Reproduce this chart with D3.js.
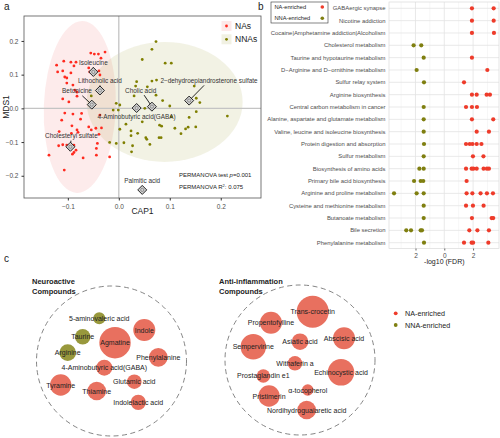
<!DOCTYPE html>
<html><head><meta charset="utf-8">
<script src="https://cdn.jsdelivr.net/npm/d3@7"></script>
<style>body{margin:0;background:#fff} text{font-family:'Liberation Sans',Arial,sans-serif}</style>
</head><body><svg id="c" width="500" height="438"></svg>
<script>
// ---------- Panel a data ----------
const naPoints = [[-0.055,0.164],[-0.048,0.161],[-0.040,0.161],[-0.027,0.167],[-0.035,0.149],[-0.122,0.128],[-0.108,0.140],[-0.094,0.137],[-0.084,0.137],[-0.120,0.108],[-0.110,0.111],[-0.106,0.093],[-0.102,0.090],[-0.094,0.105],[-0.088,0.126],[-0.059,0.120],[-0.057,0.108],[-0.039,0.111],[-0.037,0.099],[-0.102,0.075],[-0.090,0.069],[-0.086,0.054],[-0.082,0.048],[-0.110,0.028],[-0.098,0.019],[-0.082,0.036],[-0.106,-0.014],[-0.090,-0.017],[-0.112,-0.035],[-0.075,-0.032],[-0.059,-0.055],[-0.037,-0.020],[-0.082,-0.064],[-0.073,-0.015],[-0.092,-0.052],[-0.117,-0.069],[-0.093,-0.074],[-0.080,-0.071],[-0.054,-0.064],[-0.039,-0.077],[-0.045,-0.059],[-0.034,-0.058],[-0.110,-0.108],[-0.102,-0.109],[-0.118,-0.111],[-0.088,-0.109],[-0.084,-0.124],[-0.088,-0.131],[-0.091,-0.136],[-0.137,-0.139],[-0.070,-0.147],[-0.044,-0.139],[-0.044,-0.119],[-0.042,-0.104],[-0.018,-0.144],[-0.107,-0.183]];
const nnaPoints = [[0.073,0.198],[0.065,0.175],[0.046,0.145],[0.091,0.134],[0.103,0.134],[0.035,0.079],[0.065,0.081],[0.074,0.084],[0.033,0.066],[0.056,0.064],[0.086,0.023],[0.100,0.007],[0.148,0.066],[0.152,0.030],[0.152,-0.010],[0.138,-0.027],[0.213,-0.023],[0.030,0.037],[0.002,0.010],[0.051,0.000],[0.103,-0.025],[0.080,-0.050],[0.136,-0.056],[0.131,-0.061],[0.151,-0.055],[0.122,-0.075],[0.024,-0.067],[0.024,-0.081],[0.037,-0.074],[0.053,-0.087],[0.055,-0.092],[0.079,-0.087],[0.083,-0.087],[0.061,-0.107],[0.010,-0.102],[0.027,-0.111],[0.025,-0.129],[0.110,-0.059],[0.084,-0.053],[0.046,-0.040],[-0.001,-0.005],[-0.005,0.015],[0.002,-0.062],[0.014,-0.047],[-0.054,0.037],[-0.011,-0.005],[-0.018,-0.101],[-0.005,-0.104],[0.159,0.017],[0.073,0.039]];
const markerNames = ["Isoleucine","Lithocholic acid","Betonicine","Cholic acid","4-Aminobutyric acid(GABA)","2−dehydroepiandrosterone sulfate","Cholesteryl sulfate","Palmitic acid"];
const markerX = [-0.050,-0.037,-0.053,0.065,0.035,0.138,-0.095,0.046];
const markerY = [0.108,0.053,0.011,0.005,0.001,0.023,-0.114,-0.242];
const labelX = [-0.050,-0.037,-0.082,0.043,0.035,0.177,-0.093,0.046];
const labelY = [0.137,0.083,0.052,0.054,-0.025,0.083,-0.081,-0.215];
const ellipseGroups = ["NAs","NNAs"];
const ellipseCx = [-0.0765,0.090];
const ellipseCy = [0.004,0.019];
const ellipseRx = [0.0706,0.153];
const ellipseRy = [0.255,0.178];
const ellipseAngle = [2,0];
const xTicksA = [-0.1,0.0,0.1,0.2];
const yTicksA = [-0.2,-0.1,0.0,0.1,0.2];
const permanovaP = "0.001";
const permanovaR2 = "0.075";

// ---------- Panel b data ----------
const pathways = ["GABAergic synapse","Nicotine addiction","Cocaine|Amphetamine addiction|Alcoholism","Cholesterol metabolism","Taurine and hypotaurine metabolism","D−Arginine and D−ornithine metabolism","Sulfur relay system","Arginine biosynthesis","Central carbon metabolism in cancer","Alanine, aspartate and glutamate metabolism","Valine, leucine and isoleucine biosynthesis","Protein digestion and absorption","Sulfur metabolism","Biosynthesis of amino acids","Primary bile acid biosynthesis","Arginine and proline metabolism","Cysteine and methionine metabolism","Butanoate metabolism","Bile secretion","Phenylalanine metabolism"];
const naEnriched = [[1.92,3.43],[1.92,3.43],[1.92,3.45],[],[1.92],[2.99],[1.37],[1.92,2.25,2.94,3.17],[1.51,1.92,2.27],[1.92,3.40],[2.25,3.10],[1.51,1.77,1.96,2.25,2.58],[1.99,2.72],[1.51,1.90,2.02,2.25,2.73,2.96,3.10],[1.55],[1.55,1.95,2.52,2.96,3.38],[1.51,1.99,2.73],[1.92,3.29,3.40],[1.74,2.30,3.10],[1.37,1.90,2.00,3.06]];
const nnaEnriched = [[],[],[],[2.13,1.60],[1.43],[1.92],[1.41],[],[1.43],[1.43],[1.43],[1.41],[1.43],[1.73,1.43],[2.10,1.64,1.46],[3.49,1.92,1.43],[1.43],[1.43],[2.64,2.31,1.64,1.55],[1.41]];
const xTicksB = [-2,0,2];
const xMinorB = [-3,-1,1,3];

// ---------- Panel c data ----------
const groupTitles = [["Neuroactive","Compounds"],["Anti-inflammation","Compounds"]];
const compounds = ["5-aminovaleric acid","Taurine","Arginine","Agmatine","Indole","Phenylalanine","4-Aminobutyric acid(GABA)","Tyramine","Thiamine","Glutamic acid","Indolelactic acid",
  "Trans-crocetin","Propentofylline","Sempervirine","Asiatic acid","Abscisic acid","Withaferin a","Echinocystic acid","Prostaglandin e1","Pristimerin","α-tocopherol","Nordihydroguaiaretic acid"];
const compoundGroup = [0,0,0,0,0,0,0,0,0,0,0,1,1,1,1,1,1,1,1,1,1,1];
const compoundEnriched = ["NNA","NNA","NNA","NA","NA","NA","NA","NA","NA","NA","NA","NA","NA","NA","NA","NA","NA","NA","NA","NA","NA","NA"];
const compoundSize = [3.7,6.0,7.0,25,12.3,8.8,6.5,11.6,8.8,5.4,6.0,26,12.3,16.4,7.0,12.3,5.4,17.9,4.6,11.6,3.3,8.8];
const packX = [-0.163,-0.384,-0.584,0.047,0.437,0.624,-0.096,-0.677,-0.197,0.304,0.357,0.169,-0.387,-0.623,0.0,0.587,-0.067,0.547,-0.489,-0.413,0.103,0.089];
const packY = [-0.569,-0.324,-0.111,-0.244,-0.413,-0.049,0.089,0.32,0.4,0.276,0.551,-0.644,-0.497,-0.177,-0.244,-0.289,0.044,0.164,0.213,0.48,0.4,0.667];
const legendC = ["NA-enriched","NNA-enriched"];

// ---------- Drawing ----------
const svg = d3.select("#c");
const FONT = "'Liberation Sans',Arial,sans-serif";
const RED_A = "#ff2a1f", GREEN_A = "#7f7f00";
const RED_B = "#ee3b2a", GREEN_B = "#7f7f10";
const RED_C = "#e8705f", GREEN_C = "#98983c";

// Panel a
const xA = d3.scaleLinear().domain([-0.186,0.279]).range([24,261]);
const yA = d3.scaleLinear().domain([-0.266,0.274]).range([198,16]);
const gA = svg.append("g");
gA.append("clipPath").attr("id","clipA").append("rect").attr("x",24).attr("y",16).attr("width",237).attr("height",182);
const ellFill = ["rgba(240,100,100,0.13)","rgba(128,128,0,0.105)"];
gA.append("g").attr("clip-path","url(#clipA)").selectAll("ellipse").data(ellipseGroups).join("ellipse")
  .attr("cx",(d,i)=>xA(ellipseCx[i])).attr("cy",(d,i)=>yA(ellipseCy[i]))
  .attr("rx",(d,i)=>xA(ellipseCx[i]+ellipseRx[i])-xA(ellipseCx[i]))
  .attr("ry",(d,i)=>yA(ellipseCy[i])-yA(ellipseCy[i]+ellipseRy[i]))
  .attr("transform",(d,i)=>`rotate(${ellipseAngle[i]},${xA(ellipseCx[i])},${yA(ellipseCy[i])})`)
  .attr("fill",(d,i)=>ellFill[i]);
// zero lines
gA.append("line").attr("x1",xA(0)).attr("x2",xA(0)).attr("y1",16).attr("y2",198).attr("stroke","#c4c4c4").attr("stroke-width",1.3);
gA.append("line").attr("x1",24).attr("x2",261).attr("y1",yA(0)).attr("y2",yA(0)).attr("stroke","#c4c4c4").attr("stroke-width",1.3);
// points
gA.selectAll("circle.na").data(naPoints).join("circle").attr("class","na")
  .attr("cx",d=>xA(d[0])).attr("cy",d=>yA(d[1])).attr("r",1.4).attr("fill",RED_A);
gA.selectAll("circle.nna").data(nnaPoints).join("circle").attr("class","nna")
  .attr("cx",d=>xA(d[0])).attr("cy",d=>yA(d[1])).attr("r",1.4).attr("fill",GREEN_A);
// label lines
markerNames.forEach((n,i)=>{
  const lx = xA(labelX[i]), ly = yA(labelY[i]);
  const mx = xA(markerX[i]), my = yA(markerY[i]);
  const dy = my-ly, dx = mx-lx;
  const t = Math.min(1, 5/Math.abs(dy));
  gA.append("line").attr("x1",lx+dx*t).attr("y1",ly+dy*t).attr("x2",mx).attr("y2",my)
    .attr("stroke","#111").attr("stroke-width",0.9);
});
// markers
markerNames.forEach((n,i)=>{
  const mx = xA(markerX[i]), my = yA(markerY[i]);
  gA.append("path").attr("d",`M${mx},${my-4.5}L${mx+4.5},${my}L${mx},${my+4.5}L${mx-4.5},${my}Z`)
    .attr("fill","#d0d0d0").attr("stroke","#111").attr("stroke-width",0.9);
  gA.append("circle").attr("cx",mx).attr("cy",my).attr("r",1.6).attr("fill","none").attr("stroke","#555").attr("stroke-width",0.5);
});
// label texts
markerNames.forEach((n,i)=>{
  gA.append("text").attr("x",xA(labelX[i])).attr("y",yA(labelY[i])).attr("text-anchor","middle")
    .attr("dominant-baseline","central").attr("font-size",6.4).attr("fill","#333").text(n);
});
// box
gA.append("rect").attr("x",24).attr("y",16).attr("width",237).attr("height",182).attr("fill","none").attr("stroke","#555").attr("stroke-width",0.8);
// axes
const axL = gA.append("g").attr("transform","translate(24,0)").call(d3.axisLeft(yA).tickValues(yTicksA).tickSize(2.5).tickFormat(d3.format(".1f")));
const axB = gA.append("g").attr("transform","translate(0,198)").call(d3.axisBottom(xA).tickValues(xTicksA).tickSize(2.5).tickFormat(d3.format(".1f")));
[axL,axB].forEach(ax=>{ax.select(".domain").remove(); ax.selectAll("line").attr("stroke","#333");
  ax.selectAll("text").attr("font-size",6.5).attr("fill","#4d4d4d").attr("font-family",FONT);});
axB.selectAll("text").attr("dy","0.9em");
gA.append("text").attr("x",142.5).attr("y",214).attr("text-anchor","middle").attr("font-size",8.5).attr("fill","#222").text("CAP1");
gA.append("text").attr("transform","translate(9,107) rotate(-90)").attr("text-anchor","middle").attr("font-size",8.5).attr("fill","#222").text("MDS1");
// legend a
const legKeyFill = ["#fde9e9","#f1f1e3"];
[RED_A,GREEN_A].forEach((c,i)=>{
  gA.append("rect").attr("x",221.5).attr("y",21+i*13.3).attr("width",10).attr("height",10).attr("fill",legKeyFill[i]);
  gA.append("circle").attr("cx",226.5).attr("cy",26+i*13.3).attr("r",1.4).attr("fill",c);
  gA.append("text").attr("x",235).attr("y",26+i*13.3).attr("dominant-baseline","central").attr("font-size",8.5).attr("fill","#222").text(ellipseGroups[i]);
});
const t1 = gA.append("text").attr("x",179).attr("y",177).attr("font-size",6).attr("fill","#222");
t1.append("tspan").text("PERMANOVA test ");
t1.append("tspan").attr("font-style","italic").text("p");
t1.append("tspan").text("="+permanovaP);
const t2 = gA.append("text").attr("x",179).attr("y",189).attr("font-size",6).attr("fill","#222");
t2.append("tspan").text("PERMANOVA R");
t2.append("tspan").attr("font-size",4).attr("dy",-2.5).text("2");
t2.append("tspan").attr("dy",2.5).text(": "+permanovaR2);

// Panel b
const xB = d3.scaleLinear().domain([-3.84,3.80]).range([389,499]);
const yB = d3.scalePoint().domain(pathways).range([8.3,242.7]);
const gB = svg.append("g");
gB.selectAll("line.minor").data(xMinorB).join("line").attr("class","minor")
  .attr("x1",d=>xB(d)).attr("x2",d=>xB(d)).attr("y1",2).attr("y2",248.5).attr("stroke","#f0f0f0").attr("stroke-width",0.6);
gB.selectAll("line.major").data(xTicksB).join("line").attr("class","major")
  .attr("x1",d=>xB(d)).attr("x2",d=>xB(d)).attr("y1",2).attr("y2",248.5).attr("stroke","#e3e3e3").attr("stroke-width",0.8);
gB.selectAll("line.row").data(pathways).join("line").attr("class","row")
  .attr("x1",389).attr("x2",499).attr("y1",d=>yB(d)).attr("y2",d=>yB(d)).attr("stroke","#e3e3e3").attr("stroke-width",0.8);
gB.append("rect").attr("x",389).attr("y",2).attr("width",110).attr("height",246.5).attr("fill","none").attr("stroke","#dadada").attr("stroke-width",0.7);
pathways.forEach((p,i)=>{
  nnaEnriched[i].forEach(v=>gB.append("circle").attr("cx",xB(-v)).attr("cy",yB(p)).attr("r",2.1).attr("fill",GREEN_B));
  naEnriched[i].forEach(v=>gB.append("circle").attr("cx",xB(v)).attr("cy",yB(p)).attr("r",2.1).attr("fill",RED_B));
});
gB.selectAll("text.path").data(pathways).join("text").attr("class","path")
  .attr("x",385.5).attr("y",d=>yB(d)).attr("text-anchor","end").attr("dominant-baseline","central")
  .attr("font-size",5.9).attr("fill","#4d4d4d").text(d=>d);
const axBB = gB.append("g").attr("transform","translate(0,248.5)").call(d3.axisBottom(xB).tickValues(xTicksB).tickSize(2).tickFormat(d=>Math.abs(d)));
axBB.select(".domain").remove(); axBB.selectAll("line").attr("stroke","#666");
axBB.selectAll("text").attr("font-size",6.5).attr("fill","#4d4d4d").attr("font-family",FONT);
gB.append("text").attr("x",444.3).attr("y",264).attr("text-anchor","middle").attr("font-size",7).attr("fill","#222").text("-log10 (FDR)");
// legend b
gB.append("rect").attr("x",271).attr("y",2).attr("width",57).attr("height",21).attr("fill","#fff").attr("stroke","#333").attr("stroke-width",0.6);
["NA-enriched","NNA-enriched"].forEach((t,i)=>{
  gB.append("text").attr("x",274.5).attr("y",7+i*11.3).attr("dominant-baseline","central").attr("font-size",5.7).attr("fill","#222").text(t);
  gB.append("circle").attr("cx",322.3).attr("cy",7+i*11.3).attr("r",1.8).attr("fill",i?GREEN_B:RED_B);
});

// Panel c
const gC = svg.append("g");
const groupCx = [111.5,300], groupCy = [361,360], groupR = 75;
const rC = d3.scaleSqrt().domain([0,25]).range([0,15.7]);
groupTitles.forEach((tt,g)=>{
  gC.append("circle").attr("cx",groupCx[g]).attr("cy",groupCy[g]).attr("r",groupR)
    .attr("fill","none").attr("stroke","#777").attr("stroke-width",0.9).attr("stroke-dasharray","5,3.5");
  tt.forEach((s,j)=>gC.append("text").attr("x",g?219:32).attr("y",284+j*9.8).attr("font-size",7.5).attr("font-weight","bold").attr("fill","#222").text(s));
});
const scX = g=>d3.scaleLinear().domain([-1,1]).range([groupCx[g]-groupR,groupCx[g]+groupR]);
const scY = g=>d3.scaleLinear().domain([-1,1]).range([groupCy[g]-groupR,groupCy[g]+groupR]);
compounds.forEach((c,i)=>{
  const g = compoundGroup[i];
  gC.append("circle").attr("cx",scX(g)(packX[i])).attr("cy",scY(g)(packY[i])).attr("r",rC(compoundSize[i]))
    .attr("fill",compoundEnriched[i]==="NA"?RED_C:GREEN_C);
});
compounds.forEach((c,i)=>{
  const g = compoundGroup[i];
  gC.append("text").attr("x",scX(g)(packX[i])).attr("y",scY(g)(packY[i])).attr("text-anchor","middle")
    .attr("dominant-baseline","central").attr("font-size",7).attr("fill","#222").text(c);
});
legendC.forEach((t,i)=>{
  gC.append("circle").attr("cx",395.7).attr("cy",313.3+i*11.7).attr("r",1.9).attr("fill",i?GREEN_B:RED_B);
  gC.append("text").attr("x",405).attr("y",313.3+i*11.7).attr("dominant-baseline","central").attr("font-size",7.2).attr("fill","#222").text(t);
});

// Panel tags
[["a",4,10],["b",258,10],["c",4,262]].forEach(([t,x,y])=>svg.append("text").attr("x",x).attr("y",y).attr("font-size",10).attr("fill","#222").text(t));
</script></body></html>
